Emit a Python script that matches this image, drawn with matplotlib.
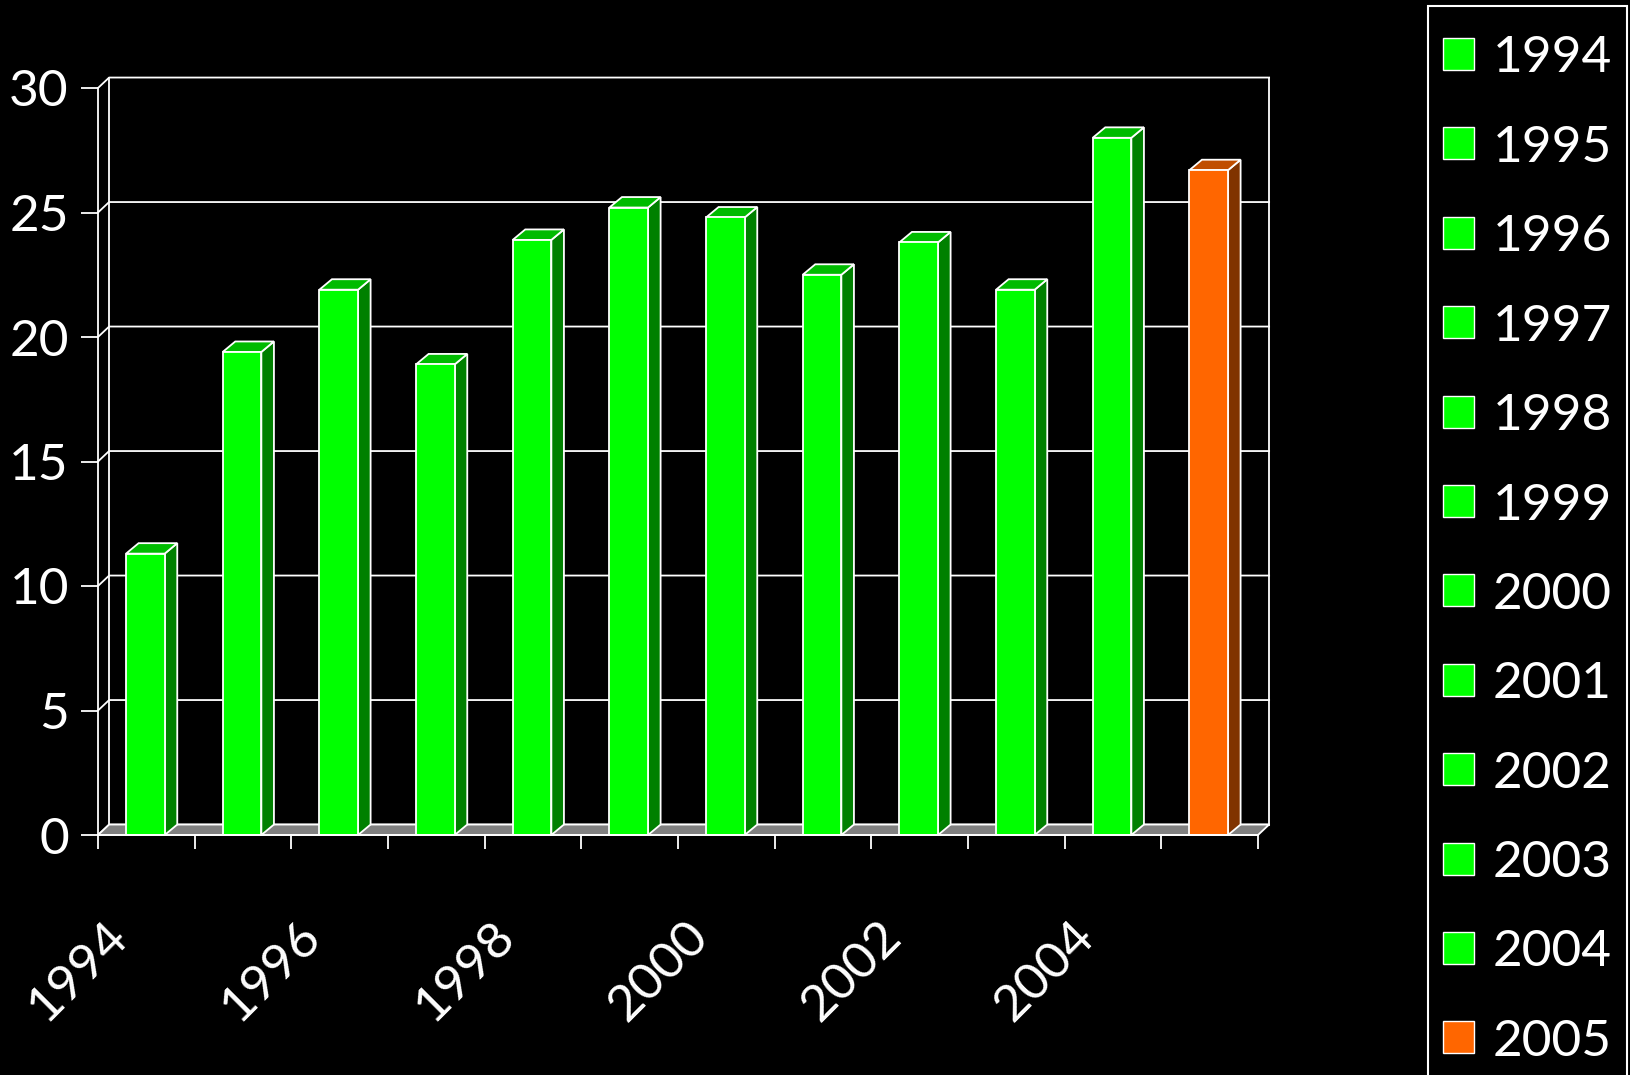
import numpy as np
import matplotlib.pyplot as plt
from matplotlib.patches import Polygon, Rectangle

# data
years = [str(y) for y in range(1994, 2006)]
values = [11.3, 19.4, 21.9, 18.9, 23.9, 25.2, 24.8, 22.5, 23.8, 21.9, 28.0, 26.7]
front_colors = ['#00FF00'] * 11 + ['#FF6600']
top_colors = ['#00BB00'] * 11 + ['#C04E00']
side_colors = ['#008000'] * 11 + ['#803300']
yticks = [0, 5, 10, 15, 20, 25, 30]

plt.rcParams['font.family'] = ['Lato', 'DejaVu Sans']

W, H = 1630, 1075
fig = plt.figure(figsize=(W / 100, H / 100), dpi=100, facecolor='black')
ax = fig.add_axes([98 / W, 240 / H, 1160 / W, 747 / H])
ax.set_facecolor('none')
n = len(years)
ax.set_xlim(0, n)
ax.set_ylim(0, 30)

lw = 1.3
# wall depth (data units)
dx, dy = 0.115, 0.42
# back wall + gridlines
for y in yticks:
    ax.plot([0, dx, n + dx], [y, y + dy, y + dy], color='white', lw=lw, zorder=1, clip_on=False)
ax.plot([dx, dx], [dy, 30 + dy], color='white', lw=lw, zorder=1, clip_on=False)
ax.plot([n + dx, n + dx], [dy, 30 + dy], color='white', lw=lw, zorder=1, clip_on=False)

# floor
ax.add_patch(Polygon([(0, 0), (n, 0), (n + dx, dy), (dx, dy)], closed=True,
                     fc='#808080', ec='white', lw=lw, zorder=2, clip_on=False))

# bars
bw, bdx, bdy = 0.40, 0.13, 0.42
for i, v in enumerate(values):
    x0 = i + 0.29
    ax.add_patch(Polygon([(x0 + bw, 0), (x0 + bw + bdx, bdy), (x0 + bw + bdx, v + bdy), (x0 + bw, v)],
                         closed=True, fc=side_colors[i], ec='white', lw=lw, zorder=3, clip_on=False))
    ax.add_patch(Polygon([(x0, v), (x0 + bw, v), (x0 + bw + bdx, v + bdy), (x0 + bdx, v + bdy)],
                         closed=True, fc=top_colors[i], ec='white', lw=lw, zorder=3, clip_on=False))
    ax.add_patch(Rectangle((x0, 0), bw, v, fc=front_colors[i], ec='white', lw=lw, zorder=4, clip_on=False))

# axes
for s in ['top', 'right']:
    ax.spines[s].set_visible(False)
for s in ['left', 'bottom']:
    ax.spines[s].set_color('white')
    ax.spines[s].set_linewidth(lw)
    ax.spines[s].set_zorder(5)
ax.set_yticks(yticks)
ax.set_xticks(range(n + 1))
ax.set_xticklabels([])
ax.tick_params(axis='y', colors='white', length=12, width=lw, labelsize=37, pad=9)
ax.tick_params(axis='x', colors='white', length=10, width=lw)

for i in range(0, n, 2):
    ax.text(i + 0.40, -0.104, years[i], transform=ax.get_xaxis_transform(), rotation=45,
            ha='right', va='top', color='white', fontsize=37)

# legend drawn in pixel coordinates
lg = fig.add_axes([0, 0, 1, 1])
lg.set_xlim(0, W)
lg.set_ylim(H, 0)
lg.axis('off')
lg.patch.set_alpha(0)
lg.add_patch(Rectangle((1428, 6), 199, H, fc='black', ec='white', lw=1.5))
for k, yr in enumerate(years):
    cy = 54 + 89.4 * k
    lg.add_patch(Rectangle((1443, cy - 16), 31, 32, fc=front_colors[k], ec='white', lw=1))
    lg.text(1493, cy, yr, color='white', fontsize=37, ha='left', va='center_baseline')

fig.savefig('out.png', dpi=100, facecolor='black')
